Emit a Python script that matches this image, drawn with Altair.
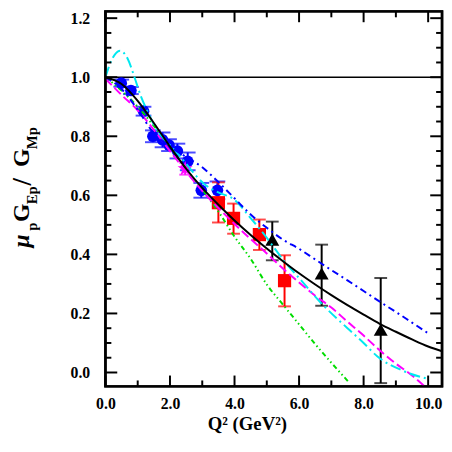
import altair as alt
import pandas as pd

# ---------------- data ----------------
blue_q2 = [0.49, 0.79, 1.18, 1.47, 1.77, 1.97, 2.23, 2.55, 2.97, 3.47]
blue_r = [0.980, 0.955, 0.885, 0.800, 0.788, 0.770, 0.750, 0.715, 0.617, 0.617]
blue_err = [0.012, 0.012, 0.015, 0.020, 0.025, 0.020, 0.025, 0.030, 0.025, 0.030]

star_q2 = [2.47]
star_r = [0.690]
star_err = [0.020]

red_q2 = [3.50, 3.97, 4.77, 5.55]
red_r = [0.575, 0.522, 0.467, 0.311]
red_lo = [0.508, 0.470, 0.415, 0.224]
red_hi = [0.644, 0.572, 0.518, 0.397]

tri_q2 = [5.17, 6.70, 8.53]
tri_r = [0.450, 0.335, 0.145]
tri_lo = [0.380, 0.226, -0.036]
tri_hi = [0.511, 0.433, 0.320]

black_x = [0, 0.5, 1, 1.5, 2, 2.5, 3, 3.5, 4, 4.5, 5, 5.5, 6, 6.5, 7, 7.5, 8, 8.5, 9, 9.5, 10, 10.43]
black_y = [1.0, 0.977, 0.92, 0.845, 0.765, 0.69, 0.625, 0.568, 0.515, 0.466, 0.42, 0.377,
           0.336, 0.298, 0.262, 0.228, 0.196, 0.165, 0.138, 0.112, 0.088, 0.072]

bluec_x = [0, 0.5, 1, 1.5, 2, 2.5, 3, 3.5, 4, 4.5, 5, 5.5, 6, 6.5, 7, 7.5, 8, 8.5, 9, 9.5, 10]
bluec_y = [1.0, 0.96, 0.89, 0.81, 0.765, 0.73, 0.695, 0.645, 0.59, 0.535, 0.49, 0.45,
           0.419, 0.383, 0.347, 0.312, 0.276, 0.24, 0.205, 0.169, 0.133]

cyan_x = [0, 0.2, 0.45, 0.7, 0.9, 1.1, 1.31, 1.6, 2.0, 2.33, 2.7, 3.04, 3.5, 4.0, 4.46,
          4.9, 5.58, 6.0, 6.7, 7.5, 8.0, 8.42, 9.24, 10.0]
cyan_y = [1.0, 1.06, 1.09, 1.06, 1.0, 0.935, 0.883, 0.82, 0.77, 0.73, 0.68, 0.64, 0.61,
          0.585, 0.528, 0.47, 0.372, 0.32, 0.233, 0.15, 0.10, 0.055, 0.005, -0.022]

mag_x = [0, 0.5, 1, 1.5, 2, 2.5, 3, 3.5, 4, 4.5, 5, 5.5, 6, 6.5, 7, 7.5, 8, 8.5, 9, 9.5, 9.87]
mag_y = [0.995, 0.94, 0.888, 0.822, 0.75, 0.68, 0.615, 0.557, 0.503, 0.452, 0.403, 0.352,
         0.305, 0.26, 0.22, 0.172, 0.125, 0.075, 0.03, -0.01, -0.045]

green_x = [0, 0.5, 1, 1.5, 2, 2.5, 3, 3.5, 4, 4.5, 5, 5.5, 6, 6.5, 7, 7.56]
green_y = [1.0, 0.955, 0.9, 0.835, 0.765, 0.69, 0.62, 0.545, 0.46, 0.385, 0.298, 0.23,
           0.163, 0.096, 0.033, -0.035]

x_labels = [0, 2, 4, 6, 8, 10]
x_minor = [1, 3, 5, 7, 9]
y_labels = [0.0, 0.2, 0.4, 0.6, 0.8, 1.0, 1.2]
y_minor = [0.05, 0.1, 0.15, 0.25, 0.3, 0.35, 0.45, 0.5, 0.55, 0.65, 0.7, 0.75,
           0.85, 0.9, 0.95, 1.05, 1.1, 1.15]

# ---------------- layout ----------------
W, H = 342, 381
X0, X1 = 0, 10.43
Y0, Y1 = -0.047, 1.223
FONT = "Liberation Serif"

xscale = alt.Scale(domain=[X0, X1], nice=False, zero=False)
yscale = alt.Scale(domain=[Y0, Y1], nice=False, zero=False)
xaxis = alt.Axis(values=x_labels, format=".1f", ticks=False, domain=False, grid=False,
                 labelFont=FONT, labelFontWeight="bold", labelFontSize=16,
                 labelPadding=10, labelColor="black", labelFlush=False,
                 labelOverlap=False, title=None)
yaxis = alt.Axis(values=y_labels, format=".1f", ticks=False, domain=False, grid=False,
                 labelFont=FONT, labelFontWeight="bold", labelFontSize=16,
                 labelPadding=16, labelColor="black", labelFlush=False,
                 labelOverlap=False, title=None)


def X(field="x"):
    return alt.X(f"{field}:Q", scale=xscale, axis=xaxis)


def Y(field="y"):
    return alt.Y(f"{field}:Q", scale=yscale, axis=yaxis)


blue_df = pd.DataFrame({"x": blue_q2, "y": blue_r,
                        "lo": [a - b for a, b in zip(blue_r, blue_err)],
                        "hi": [a + b for a, b in zip(blue_r, blue_err)]})
star_df = pd.DataFrame({"x": star_q2, "y": star_r,
                        "lo": [a - b for a, b in zip(star_r, star_err)],
                        "hi": [a + b for a, b in zip(star_r, star_err)]})
red_df = pd.DataFrame({"x": red_q2, "y": red_r, "lo": red_lo, "hi": red_hi})
tri_df = pd.DataFrame({"x": tri_q2, "y": tri_r, "lo": tri_lo, "hi": tri_hi})

layers = []

# horizontal reference line at 1.0
layers.append(alt.Chart(pd.DataFrame({"y": [1.0]})).mark_rule(color="black", strokeWidth=1.6)
              .encode(y=Y()))


def errbars(df, color, cap):
    base = alt.Chart(df)
    bar = base.mark_rule(color=color, strokeWidth=2).encode(x=X(), y=Y("lo"), y2="hi:Q")
    c1 = base.mark_tick(color=color, size=cap, thickness=2, orient="horizontal").encode(x=X(), y=Y("lo"))
    c2 = base.mark_tick(color=color, size=cap, thickness=2, orient="horizontal").encode(x=X(), y=Y("hi"))
    return [bar, c1, c2]


layers += errbars(blue_df, "#0000ff", 16)
layers += errbars(star_df, "#ff00ff", 12)
layers += errbars(red_df, "#ff0000", 13)
layers += errbars(tri_df, "black", 13)

layers.append(alt.Chart(blue_df).mark_point(shape="circle", filled=True, size=140, color="#0000ff", opacity=1)
              .encode(x=X(), y=Y()))
STAR = ("M0,-1L0.2245,-0.309L0.951,-0.309L0.363,0.118L0.588,0.809L0,0.382"
        "L-0.588,0.809L-0.363,0.118L-0.951,-0.309L-0.2245,-0.309Z")
layers.append(alt.Chart(star_df).mark_point(shape=STAR, filled=True, size=260, color="#ff00ff", opacity=1)
              .encode(x=X(), y=Y()))
layers.append(alt.Chart(red_df).mark_point(shape="square", filled=True, size=180, color="#ff0000", opacity=1)
              .encode(x=X(), y=Y()))
layers.append(alt.Chart(tri_df).mark_point(shape="triangle-up", filled=True, size=200, color="black", opacity=1)
              .encode(x=X(), y=Y()))


def curve(xs, ys, color, dash=None):
    df = pd.DataFrame({"x": xs, "y": ys})
    kw = dict(color=color, strokeWidth=2, interpolate="monotone", clip=True)
    if dash:
        kw["strokeDash"] = dash
    return alt.Chart(df).mark_line(**kw).encode(x=X(), y=Y())


layers.append(curve(green_x, green_y, "#00dd00", [5, 3, 1.5, 3, 1.5, 3]))
layers.append(curve(mag_x, mag_y, "#ff00ff", [9, 4]))
layers.append(curve(cyan_x, cyan_y, "#00e8f0", [11, 4, 2, 4]))
layers.append(curve(bluec_x, bluec_y, "#0000ff", [7, 4, 2, 4]))
layers.append(curve(black_x, black_y, "black"))

# pixel -> data conversions for tick lengths
PX_X = (X1 - X0) / W
PX_Y = (Y1 - Y0) / H


# inward ticks (bottom/top, left/right), positioned through the scales
def xticks(vals, length):
    df = pd.DataFrame({"x": vals})
    b = alt.Chart(df).mark_rule(color="black", strokeWidth=2).encode(
        x=X(), y=alt.datum(Y0), y2=alt.datum(Y0 + length * PX_Y))
    t = alt.Chart(df).mark_rule(color="black", strokeWidth=2).encode(
        x=X(), y=alt.datum(Y1), y2=alt.datum(Y1 - length * PX_Y))
    return [b, t]


def yticks(vals, length):
    df = pd.DataFrame({"y": vals})
    l = alt.Chart(df).mark_rule(color="black", strokeWidth=2).encode(
        y=Y(), x=alt.datum(X0), x2=alt.datum(X0 + length * PX_X))
    r = alt.Chart(df).mark_rule(color="black", strokeWidth=2).encode(
        y=Y(), x=alt.datum(X1), x2=alt.datum(X1 - length * PX_X))
    return [l, r]


layers += xticks(x_labels, 11) + xticks(x_minor, 6)
layers += yticks(y_labels, 12) + yticks(y_minor, 6)

one = pd.DataFrame({"a": [0]})

# plot frame through the scales
layers.append(alt.Chart(one).mark_rect(filled=False, stroke="black", strokeWidth=2.5).encode(
    x=alt.datum(X0), x2=alt.datum(X1), y=alt.datum(Y0), y2=alt.datum(Y1)))


# axis titles
def txt(s, x, y, size, angle=0, italic=False, align="left", baseline="alphabetic"):
    kw = dict(text=s, font=FONT, fontSize=size, fontWeight="bold", color="black",
              align=align, baseline=baseline)
    if angle:
        kw["angle"] = angle
    if italic:
        kw["fontStyle"] = "italic"
    return alt.Chart(one).mark_text(**kw).encode(x=alt.value(x), y=alt.value(y))


layers.append(txt("Q²  (GeV²)", 104, 425, 19))

layers.append(txt("μ", -78, 240, 24, angle=270, italic=True))
layers.append(txt("p", -70, 223, 15, angle=270))
layers.append(txt("G", -78, 214, 24, angle=270))
layers.append(txt("Ep", -70, 196, 15, angle=270))
layers.append(txt("/", -76, 177, 27, angle=270))
layers.append(txt("G", -78, 158, 24, angle=270))
layers.append(txt("Mp", -70, 140, 15, angle=270))

chart = alt.layer(*layers).properties(
    width=W, height=H,
    background="white",
    autosize=alt.AutoSizeParams(type="none"),
    padding={"left": 99, "top": 0, "right": 2, "bottom": 48},
).configure_view(stroke="black", strokeWidth=2.5)

chart.save("out.html", embed_options={"renderer": "svg", "actions": False})
